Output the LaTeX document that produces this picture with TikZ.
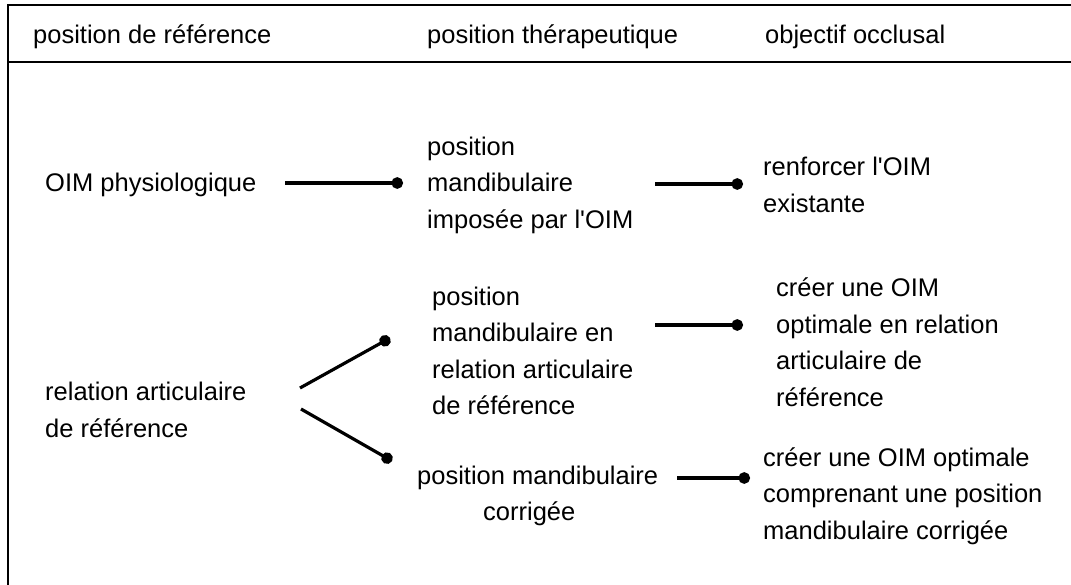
\documentclass[tikz,border=0pt]{standalone}
\usepackage{fontspec}
\setmainfont{Liberation Sans}
\usetikzlibrary{arrows.meta}
\begin{document}
\begin{tikzpicture}[x=1pt,y=-1pt,
  txt/.style={inner sep=0pt, anchor=west, align=left, font=\fontsize{25.5}{36.5}\selectfont},
  hdr/.style={inner sep=0pt, anchor=base west, font=\fontsize{25.5}{36.5}\selectfont},
  conn/.style={line width=3.2pt, -{Circle[length=11.5pt,width=11.5pt]}},
  frame/.style={line width=1.6pt}]
\useasboundingbox (0,0) rectangle (1071,585);
% frame
\coordinate (tl) at (8,5);
\coordinate (tr) at (1071,5);
\coordinate (hl) at (8,62);
\coordinate (hr) at (1071,62);
\coordinate (bl) at (8,585);
\draw[frame] (tr) -- (tl) -- (bl);
\draw[frame] (hl) -- (hr);
% headers
\node[hdr] (h1) at (33,44) {position de référence};
\node[hdr] (h2) at (427,44) {position thérapeutique};
\node[hdr] (h3) at (765,44) {objectif occlusal};
% texts
\node[txt] (oim) at (45,185) {OIM physiologique};
\node[txt] (b1) at (427,185) {position\\mandibulaire\\imposée par l\textquotesingle OIM};
\node[txt] (b2) at (763,185) {renforcer l\textquotesingle OIM\\existante};
\node[txt] (b3) at (432,351) {position\\mandibulaire en\\relation articulaire\\de référence};
\node[txt] (b4) at (776,342) {créer une OIM\\optimale en relation\\articulaire de\\référence};
\node[txt] (b5) at (45,410) {relation articulaire\\de référence};
\node[txt] (b6) at (417,496) {position mandibulaire\\\hspace*{66pt}corrigée};
\node[txt] (b7) at (763,496) {créer une OIM optimale\\comprenant une position\\mandibulaire corrigée};
% connectors
\draw[conn] ([xshift=240pt,yshift=2pt]oim.west) -- ([xshift=-24pt,yshift=2pt]b1.west);
\draw[conn] ([xshift=228pt,yshift=1pt]b1.west) -- ([xshift=-20pt,yshift=1pt]b2.west);
\draw[conn] ([xshift=223pt,yshift=26pt]b3.west) -- ([xshift=-33pt,yshift=17pt]b4.west);
\draw[conn] ([xshift=255pt,yshift=22pt]b5.west) -- ([xshift=-42pt,yshift=13pt]b3.west);
\draw[conn] ([xshift=256pt,yshift=1pt]b5.west) -- ([xshift=-25pt,yshift=35pt]b6.west);
\draw[conn] ([xshift=260pt,yshift=18pt]b6.west) -- ([xshift=-13pt,yshift=18pt]b7.west);
\end{tikzpicture}
\end{document}
